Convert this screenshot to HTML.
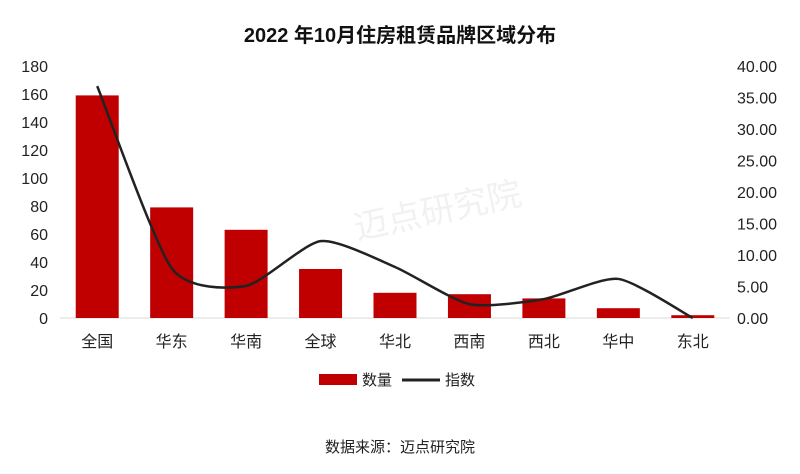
<!DOCTYPE html>
<html><head><meta charset="utf-8"><style>
body{margin:0;background:#fff;}
svg text{font-family:"Liberation Sans","Noto Sans CJK SC",sans-serif;}
</style></head><body>
<svg width="800" height="469" viewBox="0 0 800 469" id="chart">
<text x="400" y="42" text-anchor="middle" font-size="20" font-weight="bold" fill="#111">2022 年10月住房租赁品牌区域分布</text>
<text x="440" y="222" text-anchor="middle" font-size="34" fill="#000" opacity="0.05" transform="rotate(-12 440 222)">迈点研究院</text>
<g id="axes"></g><g id="bars"></g><g id="line"></g>
<g>
<rect x="319" y="374" width="38" height="11" fill="#c00000"/>
<text x="362" y="385" font-size="15" fill="#222">数量</text>
<line x1="402" y1="380" x2="440" y2="380" stroke="#222" stroke-width="3"/>
<text x="445" y="385" font-size="15" fill="#222">指数</text>
</g>
<text x="400" y="452" text-anchor="middle" font-size="15" fill="#222">数据来源：迈点研究院</text>
</svg>
<script>
const categories=["全国","华东","华南","全球","华北","西南","西北","华中","东北"];
const counts=[159,79,63,35,18,17,14,7,2];
const indexValues=[36.8,7.9,5.1,12.2,8.1,2.2,3.0,6.2,0];
const leftTicks=[0,20,40,60,80,100,120,140,160,180];
const rightTicks=[0,5,10,15,20,25,30,35,40];
const NS="http://www.w3.org/2000/svg";
const x0=60,x1=730,yB=318,yT=66;
const step=(x1-x0)/categories.length;
const xc=i=>x0+step*(i+0.5);
const yL=v=>yB-(v/180)*(yB-yT);
const yR=v=>yB-(v/40)*(yB-yT);
function mk(t,a,p){const e=document.createElementNS(NS,t);for(const k in a)e.setAttribute(k,a[k]);p.appendChild(e);return e;}
const ax=document.getElementById('axes'),bg=document.getElementById('bars'),lg=document.getElementById('line');
leftTicks.forEach(v=>{const t=mk('text',{x:48,y:yL(v)+6,'text-anchor':'end','font-size':16,fill:'#222'},ax);t.textContent=v;

});
rightTicks.forEach(v=>{const t=mk('text',{x:737,y:yR(v)+6,'font-size':16,fill:'#222'},ax);t.textContent=v.toFixed(2);

});
const base=mk('line',{x1:x0,x2:x1,y1:yB,y2:yB,stroke:'#d9d9d9'},ax);


categories.forEach((c,i)=>{const t=mk('text',{x:xc(i),y:347,'text-anchor':'middle','font-size':16,fill:'#222'},ax);t.textContent=c;


const b=mk('rect',{x:xc(i)-21.5,y:yL(counts[i]),width:43,height:yB-yL(counts[i]),fill:'#c00000'},bg);

});
const pts=indexValues.map((v,i)=>[xc(i),yR(v)]);
let d='M'+pts[0][0]+','+pts[0][1];
for(let i=0;i<pts.length-1;i++){const p0=pts[i-1]||pts[i],p1=pts[i],p2=pts[i+1],p3=pts[i+2]||p2;const k=1/9;
d+=` C${p1[0]+(p2[0]-p0[0])*k},${p1[1]+(p2[1]-p0[1])*k} ${p2[0]-(p3[0]-p1[0])*k},${p2[1]-(p3[1]-p1[1])*k} ${p2[0]},${p2[1]}`;}
const pl=mk('path',{d:d,fill:'none',stroke:'#222','stroke-width':2.5},lg);


</script>
</body></html>
